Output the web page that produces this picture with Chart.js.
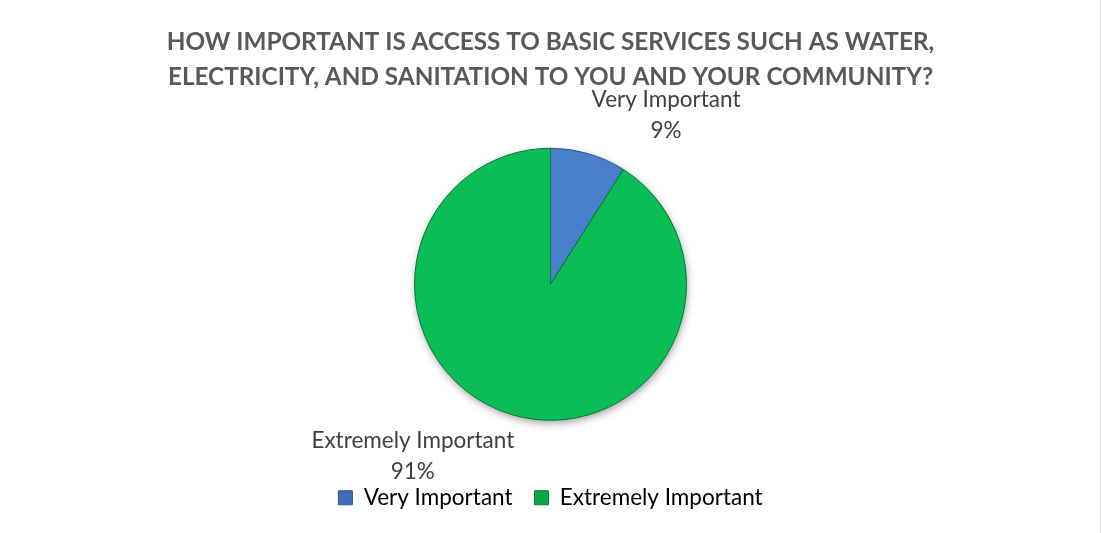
<!DOCTYPE html>
<html>
<head>
<meta charset="utf-8">
<script src="https://cdn.jsdelivr.net/npm/chart.js@4.4.1/dist/chart.umd.min.js"></script>
<style>
  html, body { margin: 0; padding: 0; background: #ffffff; }
  #wrap { position: relative; width: 1101px; height: 533px; }
  #wrap::after {
    content: ""; position: absolute; right: 0; top: 0; bottom: 0;
    border-right: 1px solid #d9d9d9;
  }
</style>
</head>
<body>
<div id="wrap"><canvas id="pieChart" width="1101" height="533"></canvas></div>
<script>
// Chart data
const titleLines = [
  "HOW IMPORTANT IS ACCESS TO BASIC SERVICES SUCH AS WATER,",
  "ELECTRICITY, AND SANITATION TO YOU AND YOUR COMMUNITY?",
];
const categories = ["Very Important", "Extremely Important"];
const shares = [9, 91];

// Colours (base, rim)
const sliceColors = ["#4a7fcb", "#0bbd55"];
const rimColors = ["#2b5796", "#067a36"];
const legendColors = ["#3d6fb6", "#0aa74b"];

Chart.defaults.font.family = "Lato, 'Open Sans', sans-serif";

function sliceFill(context) {
  const chart = context.chart;
  const el = chart.getDatasetMeta(0).data[context.dataIndex];
  if (!el || !el.outerRadius) return sliceColors[context.dataIndex];
  const g = chart.ctx.createRadialGradient(el.x, el.y, 0, el.x, el.y, el.outerRadius);
  g.addColorStop(0, sliceColors[context.dataIndex]);
  g.addColorStop(0.95, sliceColors[context.dataIndex]);
  g.addColorStop(1, rimColors[context.dataIndex]);
  return g;
}

// soft shadow under the pie
const pieShadow = {
  id: "pieShadow",
  beforeDatasetsDraw(chart) {
    const el = chart.getDatasetMeta(0).data[0];
    if (!el) return;
    const ctx = chart.ctx;
    ctx.save();
    ctx.shadowColor = "rgba(0,0,0,0.45)";
    ctx.shadowBlur = 9;
    ctx.shadowOffsetX = 1;
    ctx.shadowOffsetY = 3;
    ctx.fillStyle = "#0bbd55";
    ctx.beginPath();
    ctx.arc(el.x, el.y, el.outerRadius - 1, 0, Math.PI * 2);
    ctx.fill();
    ctx.restore();
  },
};

// outside labels: category + percentage
const sliceLabels = {
  id: "sliceLabels",
  afterDatasetsDraw(chart, args, opts) {
    const ctx = chart.ctx;
    const meta = chart.getDatasetMeta(0);
    const total = shares.reduce((a, b) => a + b, 0);
    ctx.save();
    ctx.font = opts.font;
    ctx.fillStyle = opts.color;
    ctx.textAlign = "center";
    ctx.textBaseline = "middle";
    meta.data.forEach((arc, i) => {
      const mid = (arc.startAngle + arc.endAngle) / 2;
      const r = arc.outerRadius + opts.distance[i];
      const x = arc.x + Math.cos(mid) * r + opts.shift[i][0];
      const y = arc.y + Math.sin(mid) * r + opts.shift[i][1];
      const pct = Math.round((shares[i] / total) * 100) + "%";
      ctx.fillText(categories[i], x, y - opts.lineGap / 2);
      ctx.fillText(pct, x, y + opts.lineGap / 2);
    });
    ctx.restore();
  },
};

new Chart(document.getElementById("pieChart").getContext("2d"), {
  type: "pie",
  data: {
    labels: categories,
    datasets: [
      {
        data: shares,
        backgroundColor: sliceFill,
        borderColor: rimColors,
        borderWidth: 1,
        radius: 136,
      },
    ],
  },
  options: {
    responsive: false,
    animation: false,
    layout: { padding: { bottom: 14 } },
    plugins: {
      title: {
        display: true,
        text: titleLines,
        color: "#595959",
        font: { size: 24.3, weight: "bold", lineHeight: 1.44 },
        padding: { top: 25, bottom: 9 },
      },
      legend: {
        position: "bottom",
        labels: {
          color: "#595959",
          font: { size: 22.5 },
          boxWidth: 14,
          boxHeight: 14,
          padding: 22,
          generateLabels: () =>
            categories.map((c, i) => ({
              text: c,
              fillStyle: legendColors[i],
              strokeStyle: rimColors[i],
              lineWidth: 1,
              index: i,
            })),
        },
      },
      tooltip: { enabled: false },
      sliceLabels: {
        font: "22.5px Lato, 'Open Sans', sans-serif",
        color: "#404040",
        lineGap: 31,
        distance: [38, 42],
        shift: [[67, -1.5], [-88, 1.5]],
      },
    },
  },
  plugins: [pieShadow, sliceLabels],
});
</script>
</body>
</html>
